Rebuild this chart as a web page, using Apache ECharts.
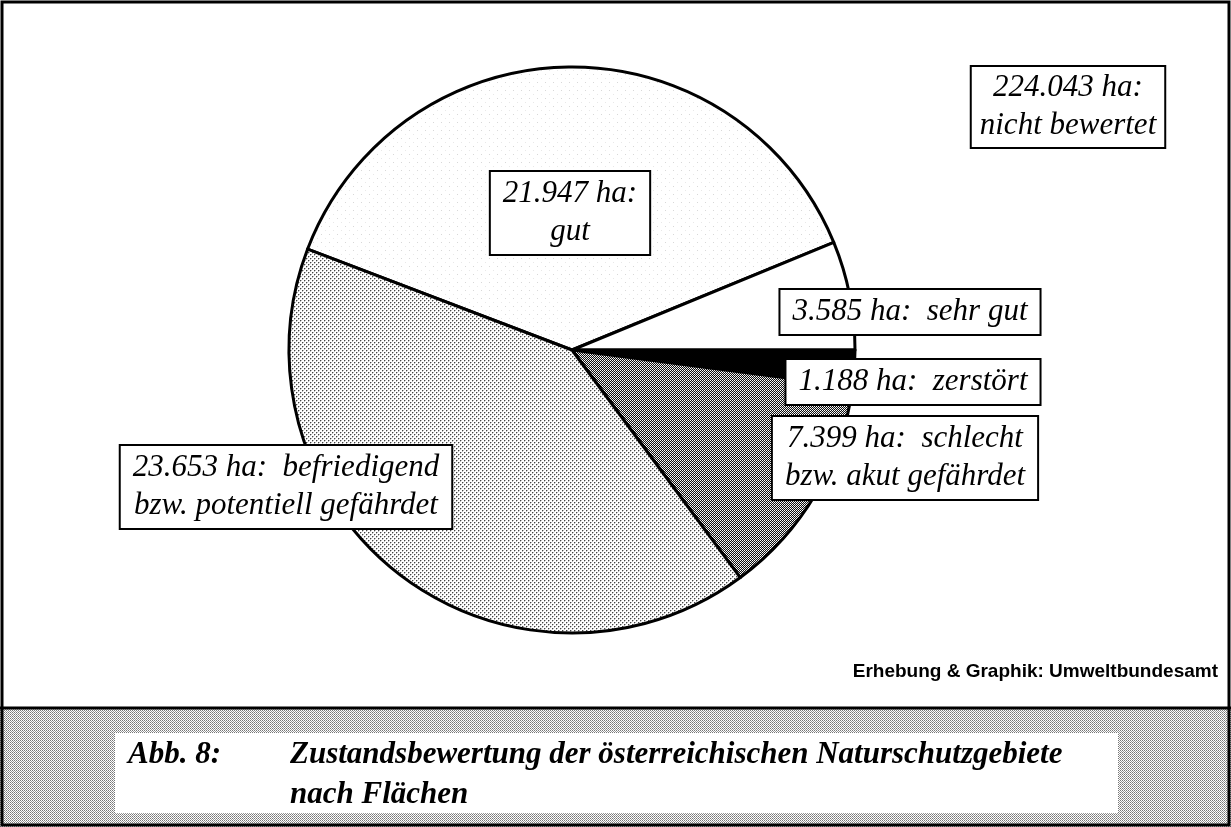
<!DOCTYPE html>
<html><head><meta charset="utf-8">
<script src="https://cdn.jsdelivr.net/npm/echarts@6/dist/echarts.min.js"></script>
<style>html,body{margin:0;padding:0;background:#fff}#c{width:1231px;height:827px}</style>
</head><body><div id="c"></div>
<script>
// ---- data ----
const categories = ['gut', 'sehr gut', 'zerstört', 'schlecht', 'befriedigend'];
const values = [21.947, 3.585, 1.188, 7.399, 23.653];
const valueLabels = ['21.947', '3.585', '1.188', '7.399', '23.653'];
const labelTexts = ['gut', 'sehr gut', 'zerstört', 'schlecht\nbzw. akut gefährdet', 'befriedigend\nbzw. potentiell gefährdet'];
const unratedValue = '224.043';
const unratedText = 'nicht bewertet';
const captionNo = 'Abb. 8:';
const captionLines = ['Zustandsbewertung der österreichischen Naturschutzgebiete', 'nach Flächen'];
const creditText = 'Erhebung & Graphik: Umweltbundesamt';

// ---- patterns ----
function pat(size, dots, bg) {
  const c = document.createElement('canvas');
  c.width = c.height = size;
  const g = c.getContext('2d');
  g.fillStyle = bg; g.fillRect(0, 0, size, size);
  dots.forEach(d => { g.fillStyle = d[2]; g.fillRect(d[0], d[1], 1, 1); });
  return { image: c, repeat: 'repeat' };
}
const fills = [
  pat(8, [[1, 2, '#d8d8d8'], [5, 6, '#e8e8e8']], '#ffffff'),
  '#ffffff',
  '#000000',
  pat(2, [[0, 0, '#ffffff'], [1, 1, '#dddddd']], '#111111'),
  pat(4, [[0, 0, '#444'], [2, 2, '#444'], [1, 0, '#bbb'], [3, 2, '#bbb'], [0, 1, '#bbb'], [2, 3, '#bbb']], '#ffffff')
];
const capFill = pat(2, [[0, 0, '#777'], [1, 1, '#999']], '#ffffff');

// label box centres (layout)
const labelPos = [[570, 213], [910, 312], [913, 382], [905, 458], [286, 487]];

const serif = '"Liberation Serif", "DejaVu Serif", serif';
const boxStyle = {
  backgroundColor: '#fff', borderColor: '#000', borderWidth: 2,
  color: '#000', fontFamily: serif, fontStyle: 'italic', fontSize: 31, lineHeight: 38,
  align: 'center'
};

const chart = echarts.init(document.getElementById('c'), null, { renderer: 'canvas' });
chart.setOption({
  animation: false,
  backgroundColor: '#fff',
  series: [{
    type: 'pie',
    center: [572, 350],
    radius: 283,
    startAngle: 159.1,
    clockwise: true,
    avoidLabelOverlap: false,
    emphasis: { disabled: true },
    itemStyle: { borderColor: '#000', borderWidth: 3 },
    labelLine: { show: false },
    label: {
      show: true, position: 'outside',
      formatter: p => {
        const i = p.dataIndex;
        if (i === 0) return valueLabels[i] + ' ha:\n' + labelTexts[i];
        return valueLabels[i] + ' ha:  ' + labelTexts[i];
      },
      ...boxStyle,
      padding: [3, 12, 3, 12]
    },
    labelLayout: p => ({ x: labelPos[p.dataIndex][0], y: labelPos[p.dataIndex][1], align: 'center', verticalAlign: 'middle' }),
    data: categories.map((c, i) => ({ name: c, value: values[i], itemStyle: { color: fills[i] } }))
  }],
  graphic: [
    { type: 'rect', shape: { x: 0, y: 708, width: 1231, height: 119 }, style: { fill: capFill }, silent: true },
    { type: 'rect', shape: { x: 115, y: 733, width: 1003, height: 80 }, style: { fill: '#fff' }, silent: true },
    { type: 'line', shape: { x1: 0, y1: 708, x2: 1231, y2: 708 }, style: { stroke: '#000', lineWidth: 3 }, silent: true },
    { type: 'rect', shape: { x: 2, y: 2, width: 1227, height: 823 }, style: { fill: null, stroke: '#000', lineWidth: 3 }, silent: true },
    { type: 'text', x: 128, y: 755, style: { text: captionNo, fontFamily: serif, fontStyle: 'italic', fontWeight: 'bold', fontSize: 31, fill: '#000', verticalAlign: 'middle' }, silent: true },
    { type: 'text', x: 290, y: 755, style: { text: captionLines[0], fontFamily: serif, fontStyle: 'italic', fontWeight: 'bold', fontSize: 31, fill: '#000', verticalAlign: 'middle' }, silent: true },
    { type: 'text', x: 290, y: 795, style: { text: captionLines[1], fontFamily: serif, fontStyle: 'italic', fontWeight: 'bold', fontSize: 31, fill: '#000', verticalAlign: 'middle' }, silent: true },
    { type: 'text', x: 1218, y: 672, style: { text: creditText, fontFamily: '"Liberation Sans", Arial, sans-serif', fontWeight: 'bold', fontSize: 19, fill: '#000', align: 'right', verticalAlign: 'middle' }, silent: true },
    { type: 'text', x: 1068, y: 107, style: { text: unratedValue + ' ha:\n' + unratedText, fontFamily: serif, fontStyle: 'italic', fontSize: 31, lineHeight: 38, fill: '#000', align: 'center', verticalAlign: 'middle', backgroundColor: '#fff', borderColor: '#000', borderWidth: 2, padding: [2, 8, 2, 8] }, silent: true }
  ]
});
</script></body></html>
